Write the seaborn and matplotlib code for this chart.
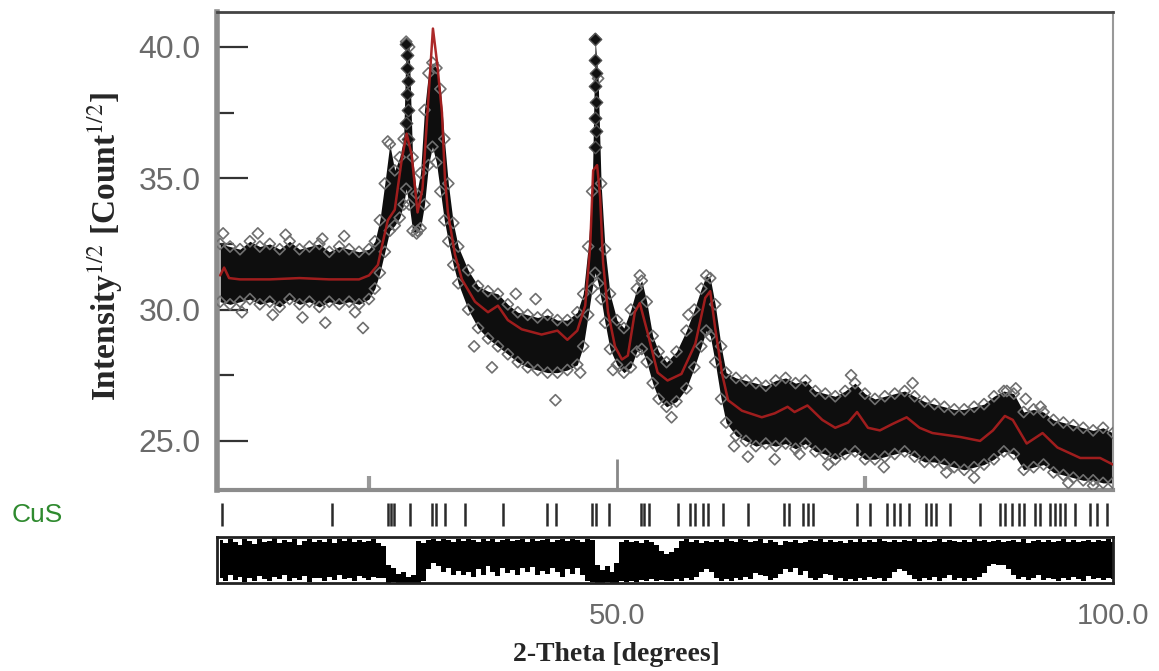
import numpy as np
import matplotlib
matplotlib.use('Agg')
import matplotlib.pyplot as plt
import seaborn as sns

# calculated profile (red line)
calc_x = [10.0, 10.4, 10.9, 12.0, 15.0, 18.0, 21.0, 24.0, 25.0, 25.9, 26.3, 26.9, 27.6,
          28.3, 28.8, 29.3, 29.9, 30.4, 30.9, 31.45, 31.9, 32.36, 32.66, 32.96, 33.67,
          34.37, 35.69, 37.0, 38.0, 39.0, 40.4, 42.4, 44.0, 45.0, 46.0, 46.8, 47.3, 47.6,
          48.0, 48.3, 48.6, 49.1, 49.8, 50.5, 51.1, 51.8, 52.3, 53.1, 54.1, 55.1, 56.5,
          57.9, 58.9, 59.4, 59.9, 60.6, 61.2, 62.6, 64.6, 65.9, 67.2, 67.9, 69.2, 70.7,
          72.0, 73.3, 74.2, 75.3, 76.5, 77.8, 79.2, 80.5, 81.8, 84.6, 86.6, 87.9, 89.1,
          89.9, 91.3, 92.9, 94.4, 96.7, 98.7, 100.0]
calc_y = [31.3, 31.6, 31.2, 31.15, 31.15, 31.2, 31.15, 31.15, 31.3, 31.7, 32.4, 33.4, 33.8,
          35.7, 36.7, 35.9, 33.7, 34.6, 37.5, 40.7, 39.3, 37.5, 35.0, 33.7, 32.1,
          31.15, 30.3, 29.9, 30.15, 29.6, 29.25, 29.05, 29.2, 28.85, 29.2, 30.15, 32.4, 35.3,
          35.5, 34.3, 31.8, 29.9, 28.6, 28.1, 28.25, 29.9, 30.25, 29.1, 27.6, 27.3, 27.55,
          28.7, 30.45, 30.7, 29.3, 27.55, 26.55, 26.15, 25.9, 26.05, 26.3, 26.1, 26.35, 25.8,
          25.5, 25.7, 26.1, 25.5, 25.4, 25.65, 25.9, 25.5, 25.3, 25.15, 25.0, 25.4, 25.95,
          25.8, 24.9, 25.3, 24.75, 24.35, 24.35, 24.1]

# observed points: lower and upper edge of the dense band
obs_x = [10, 11, 12, 13, 14, 15, 16, 17, 18, 19, 20, 21, 22, 23, 24, 25,
         25.6, 26.1, 26.6, 27.1, 27.6, 28.1, 28.5, 28.75, 29.05, 29.4, 29.8, 30.2, 30.6,
         31.0, 31.4, 31.8, 32.2, 32.6, 33.0, 33.5, 34.0,
         35, 36, 37, 38, 39, 40, 41, 42, 43, 44, 45, 46,
         46.6, 47.1, 47.5, 47.8, 48.1, 48.4, 48.8, 49.3, 50, 50.7, 51.4, 52.0, 52.5, 53.0,
         53.6, 54.2, 55, 56, 57, 57.8, 58.5, 59.0, 59.4, 59.9, 60.5, 61,
         62, 63, 64, 65, 66, 67, 68, 69, 70, 71, 72, 73, 74, 75, 76, 77, 78, 79, 80,
         81, 82, 83, 84, 85, 86, 87, 88, 89, 90, 91, 92, 93, 94, 95, 96, 97, 98, 99, 100]
obs_lo = [30.3, 30.2, 30.3, 30.4, 30.2, 30.3, 30.1, 30.4, 30.2, 30.3, 30.1, 30.3, 30.2, 30.3, 30.2, 30.4,
          30.8, 31.4, 32.2, 33.0, 33.2, 33.5, 34.0, 34.6, 34.0, 33.0, 32.9, 33.1, 34.0,
          35.5, 36.2, 35.6, 34.5, 33.4, 32.6, 31.7, 31.0,
          30.0, 29.3, 28.9, 28.6, 28.3, 28.0, 27.8, 27.7, 27.6, 27.6, 27.7, 27.9,
          28.6, 29.8, 30.8, 31.4, 31.0, 30.4, 29.5, 28.5, 27.9, 27.6, 27.8, 28.4, 28.5, 28.0,
          27.2, 26.6, 26.3, 26.5, 27.0, 27.8, 28.6, 29.2, 29.0, 28.0, 26.6, 25.7,
          25.2, 25.0, 24.8, 24.9, 24.8, 24.9, 24.7, 24.9, 24.6, 24.5, 24.3, 24.5, 24.6, 24.3,
          24.3, 24.4, 24.5, 24.6, 24.4, 24.2, 24.2, 24.1, 24.0, 23.9, 24.0, 24.1, 24.3, 24.6,
          24.5, 23.9, 24.0, 24.1, 23.8, 23.7, 23.6, 23.5, 23.5, 23.4, 23.4]
obs_hi = [32.5, 32.4, 32.3, 32.6, 32.4, 32.5, 32.3, 32.6, 32.3, 32.4, 32.5, 32.2, 32.4, 32.3, 32.2, 32.3,
          32.6, 33.4, 34.8, 36.3, 35.3, 35.8, 36.5, 40.2, 40.0, 35.8, 34.4, 35.2, 37.6,
          39.0, 39.4, 39.2, 38.4, 36.5, 34.8, 33.3, 32.4,
          31.5, 30.9, 30.7, 30.6, 30.2, 29.9, 29.8, 29.7, 29.8, 29.6, 29.6, 29.9,
          30.6, 32.4, 34.5, 40.3, 38.8, 34.8, 32.3, 30.6, 29.6, 29.3, 30.0, 30.8, 31.1, 30.3,
          29.0, 28.4, 28.0, 28.4, 29.2, 30.0, 30.8, 31.3, 31.2, 30.2, 28.6, 27.6,
          27.4, 27.3, 27.2, 27.1, 27.3, 27.4, 27.2, 27.3, 26.9, 26.8, 26.7, 26.9, 27.2, 26.8,
          26.6, 26.7, 26.8, 26.9, 26.7, 26.5, 26.4, 26.3, 26.2, 26.2, 26.3, 26.4, 26.7, 26.9,
          26.8, 26.1, 26.2, 26.1, 25.8, 25.7, 25.6, 25.5, 25.4, 25.5, 25.3]

# single observed points lying outside the band
stray_x = [10.3, 13.8, 16.6, 20.3, 22.5, 12.2, 15.3, 18.3, 20.6, 24.4, 23.6, 26.9, 29.9,
           35.6, 37.4, 39.8, 41.8, 43.8, 46.3, 49.6, 52.3, 55.5, 57.2, 61.8, 63.2, 65.9,
           68.4, 71.3, 73.6, 76.9, 79.8, 83.2, 86.0, 89.3, 90.2, 91.2, 92.7, 95.5, 98.0]
stray_y = [32.9, 32.9, 32.85, 32.7, 32.8, 29.9, 29.8, 29.7, 29.5, 29.3, 29.9, 36.4, 33.0,
           28.6, 27.8, 30.6, 30.4, 26.55, 27.6, 27.7, 31.3, 25.9, 29.8, 24.8, 24.4, 24.3,
           24.5, 24.1, 27.5, 24.0, 27.2, 23.8, 23.6, 26.9, 27.0, 26.6, 26.3, 23.4, 23.3]

# narrow peak tops (column of points)
col_x = [28.7, 28.8, 28.8, 28.9, 28.8, 28.9, 28.7, 28.9,
         47.8, 47.8, 47.9, 47.8, 47.9, 47.8, 47.9, 47.8]
col_y = [40.1, 39.7, 39.2, 38.7, 38.2, 37.6, 37.1, 36.5,
         40.3, 39.5, 39.0, 38.5, 37.9, 37.3, 36.8, 36.2]

# CuS reflection positions
bragg_pos = [10.2, 21.3, 26.9, 27.2, 27.5, 29.1, 31.4, 31.8, 32.7, 34.7, 38.5, 42.9, 43.9,
             47.5, 47.9, 49.2, 52.4, 52.7, 53.2, 56.2, 57.4, 57.9, 58.7, 59.2, 60.7, 63.2,
             66.8, 67.3, 68.8, 69.3, 69.8, 74.2, 75.5, 77.2, 77.9, 78.5, 79.4, 81.2, 81.7,
             82.2, 83.6, 86.6, 88.6, 89.1, 89.8, 90.5, 91.0, 92.1, 92.6, 93.7, 94.2, 94.7,
             95.2, 96.2, 97.7, 98.4, 99.4]

# difference curve, upper / lower extent every 0.5 deg from 10 to 100
diff_x = np.arange(10.0, 100.25, 0.5)
diff_hi = [2.6, 2.2, 2.8, 2.4, 2.0, 2.7, 2.5, 2.1, 2.8, 2.3,
           2.5, 2.9, 2.2, 2.6, 2.4, 2.8, 2.0, 2.5, 2.7, 2.3,
           2.6, 2.4, 2.8, 2.2, 2.7, 2.5, 2.9, 2.3, 2.6, 2.4,
           2.5, 2.7, 2.2, 1.8, -0.6, -1.0, -1.8, -1.6, -2.2, -2.0,
           2.5, 2.2, 2.6, 2.7, 2.5, 2.8, 2.6, 2.4, 2.7, 2.5,
           2.8, 2.6, 2.4, 2.7, 2.5, 2.8, 2.3, 2.6, 2.7, 2.5,
           2.6, 2.8, 2.4, 2.7, 2.5, 2.6, 2.8, 2.3, 2.6, 2.7,
           2.5, 2.7, 2.6, 2.4, 2.7, 2.6, -0.6, -1.3, -0.8, -1.5,
           -0.4, 2.4, 2.6, 2.3, 2.5, 2.2, 2.6, 2.4, 2.0, 1.2,
           0.8, 1.0, 1.6, 2.5, 2.7, 2.3, 2.6, 2.2, 2.5, 2.4,
           2.6, 2.4, 2.8, 2.5, 2.3, 2.7, 2.6, 2.4, 2.5, 2.7,
           2.2, 2.6, 2.4, 2.0, 2.5, 2.3, 2.6, 2.2, 2.4, 2.6,
           2.5, 2.7, 2.4, 2.6, 2.3, 2.5, 2.2, 2.6, 2.4, 2.7,
           2.3, 2.6, 2.4, 2.7, 2.5, 2.3, 2.6, 2.4, 2.6, 2.5,
           2.7, 2.4, 2.6, 2.3, 2.5, 2.7, 2.4, 2.6, 2.5, 2.3,
           2.6, 2.4, 2.7, 2.5, 2.6, 2.4, 2.5, 2.6, 2.3, 2.5,
           2.6, 2.4, 2.7, 2.2, 2.5, 2.6, 2.4, 2.6, 2.3, 2.5,
           2.7, 2.4, 2.6, 2.3, 2.5, 2.6, 2.4, 2.6, 2.5, 2.7, 2.4]
diff_lo = [-2.4, -2.8, -2.0, -2.6, -2.2, -2.9, -2.3, -2.7, -2.1, -2.5,
           -2.7, -2.2, -2.5, -2.0, -2.8, -2.4, -2.6, -2.1, -2.9, -2.3,
           -2.4, -2.7, -2.2, -2.6, -2.0, -2.5, -2.3, -2.8, -2.1, -2.4,
           -2.6, -2.2, -2.4, -2.4, -3.0, -2.9, -3.0, -3.0, -3.0, -3.0,
           -3.0, -2.8, -1.2, -0.4, -0.8, -1.5, -1.0, -1.9, -1.4, -2.0,
           -1.6, -2.2, -1.2, -1.9, -0.8, -1.5, -2.1, -1.0, -1.7, -1.3,
           -1.9, -1.1, -1.6, -0.9, -2.0, -1.4, -1.8, -1.0, -1.5, -2.2,
           -1.2, -1.8, -1.1, -2.0, -2.7, -2.9, -3.0, -3.0, -2.9, -3.0,
           -3.0, -2.8, -2.9, -2.7, -2.9, -2.6, -2.8, -2.5, -2.7, -2.6,
           -2.8, -2.7, -2.5, -2.8, -2.4, -2.6, -2.2, -1.6, -1.2, -1.5,
           -2.3, -2.7, -2.5, -2.8, -2.4, -2.6, -2.2, -2.5, -1.7, -1.9,
           -2.1, -2.6, -2.4, -1.8, -1.2, -1.6, -1.0, -1.9, -1.4, -2.3,
           -2.6, -2.4, -1.8, -2.0, -2.6, -2.3, -2.7, -2.5, -2.8, -2.4,
           -2.6, -2.2, -2.5, -2.3, -2.7, -2.4, -1.6, -1.2, -1.4, -2.0,
           -2.5, -2.7, -2.3, -2.6, -2.2, -2.8, -2.4, -2.0, -2.6, -2.3,
           -2.7, -2.4, -2.6, -2.2, -1.7, -0.8, -0.5, -0.7, -0.6, -1.2,
           -2.0, -2.5, -2.2, -2.6, -2.4, -2.0, -2.6, -2.3, -2.5, -2.7,
           -2.4, -2.6, -2.2, -2.5, -2.7, -2.1, -2.5, -2.3, -2.6, -2.4, -2.5]

XMIN, XMAX = 9.68, 100.0

sns.set_theme(style='white')
plt.rcParams['font.family'] = ['Liberation Sans', 'DejaVu Sans']
plt.rcParams['mathtext.fontset'] = 'stix'

fig = plt.figure(figsize=(11.59, 6.71), dpi=100)

# main pattern
ax = fig.add_axes([0.1872, 0.2697, 0.7731, 0.7124])
ax.fill_between(obs_x, obs_lo, obs_hi, color='#0e0e0e', lw=0, zorder=2)
for edge in (obs_lo, obs_hi):
    sns.scatterplot(x=obs_x, y=edge, marker='D', s=32, facecolor='none',
                    edgecolor='#6f6f6f', linewidth=1.2, ax=ax, zorder=3)
sns.scatterplot(x=stray_x, y=stray_y, marker='D', s=32, facecolor='none',
                edgecolor='#6f6f6f', linewidth=1.2, ax=ax, zorder=3)
sns.scatterplot(x=col_x, y=col_y, marker='D', s=40, color='#111111',
                edgecolor='#555555', linewidth=1.0, ax=ax, zorder=4)
sns.lineplot(x=calc_x, y=calc_y, estimator=None, sort=False, color='#a81e1e',
             linewidth=1.8, alpha=0.95, ax=ax, zorder=5)

ax.set_xlim(XMIN, XMAX)
ax.set_ylim(23.13, 41.33)
ax.set_yticks([25, 30, 35, 40])
ax.set_yticklabels(['25.0', '30.0', '35.0', '40.0'])
ax.set_yticks([27.5, 32.5, 37.5], minor=True)
ax.set_xticks([50])
ax.set_xticks([25, 75], minor=True)
ax.set_xticklabels([])
ax.tick_params(axis='y', which='major', direction='in', length=22, width=1.6,
               color='#333333', labelsize=23, labelcolor='#6a6a6a', pad=12, left=True)
ax.tick_params(axis='y', which='minor', direction='in', length=12, width=1.6,
               color='#333333', left=True)
ax.tick_params(axis='x', which='major', direction='in', length=22, width=2,
               color='#888888', bottom=True)
ax.tick_params(axis='x', which='minor', direction='in', length=10, width=3,
               color='#999999', bottom=True)
ax.set_xlabel('')
ax.set_ylabel('')
ax.spines['left'].set_color('#8c8c8c')
ax.spines['left'].set_linewidth(4)
ax.spines['bottom'].set_color('#8c8c8c')
ax.spines['bottom'].set_linewidth(3)
ax.spines['top'].set_color('#444444')
ax.spines['top'].set_linewidth(2)
ax.spines['right'].set_color('#999999')
ax.spines['right'].set_linewidth(1.5)

# reflection markers
ax_t = fig.add_axes([0.1872, 0.2101, 0.7731, 0.0477])
ax_t.vlines(bragg_pos, 0.12, 0.85, color='#2a2a2a', lw=1.8)
ax_t.set_xlim(XMIN, XMAX)
ax_t.set_ylim(0, 1)
ax_t.axis('off')
fig.text(0.010, 0.2325, 'CuS', color='#2f8a2f', fontsize=19, va='center', ha='left')

# difference curve
ax_d = fig.add_axes([0.1872, 0.1311, 0.7731, 0.0686])
ax_d.fill_between(diff_x, diff_lo, diff_hi, step='mid', color='black', lw=0)
ax_d.set_xlim(XMIN, XMAX)
ax_d.set_ylim(-3, 3)
ax_d.set_yticks([])
ax_d.set_xticks([50, 100])
ax_d.set_xticklabels(['50.0', '100.0'])
ax_d.tick_params(axis='x', length=0, labelsize=21, labelcolor='#6a6a6a', pad=14)
for s in ax_d.spines.values():
    s.set_color('#222222')
    s.set_linewidth(2)

fig.text(0.532, 0.024, '2-Theta [degrees]', ha='center', va='center',
         family=['Liberation Serif', 'DejaVu Serif'], fontweight='bold', fontsize=20)
fig.text(0.0906, 0.632, 'Intensity$^{1/2}$ [Count$^{1/2}$]', rotation=90,
         ha='center', va='center', family=['Liberation Serif', 'DejaVu Serif'],
         fontweight='bold', fontsize=24)

fig.savefig('out.png', dpi=100)
